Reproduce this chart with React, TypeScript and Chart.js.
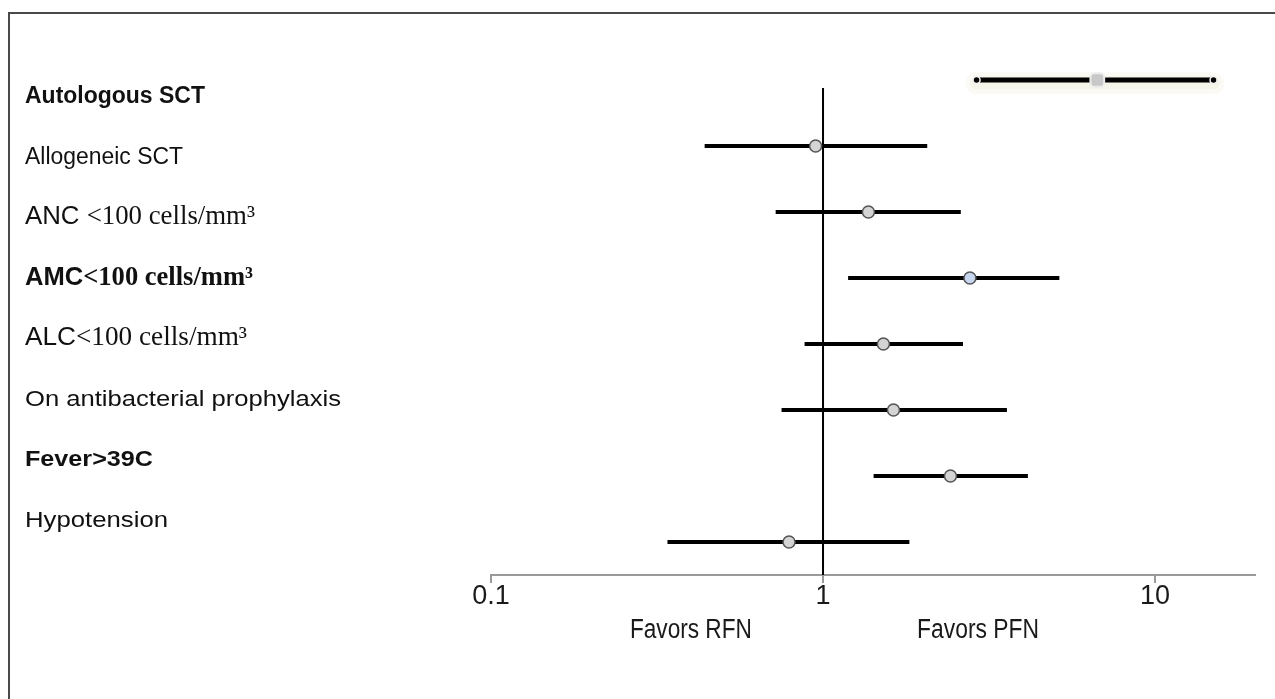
import { useEffect, useRef } from "react";
import { Chart, registerables } from "chart.js";

Chart.register(...registerables);

// ---- data ----
const CATEGORIES = [
  "Autologous SCT",
  "Allogeneic SCT",
  "ANC <100 cells/mm³",
  "AMC<100 cells/mm³",
  "ALC<100 cells/mm³",
  "On antibacterial prophylaxis",
  "Fever>39C",
  "Hypotension",
];
const ODDS_RATIO = [6.7, 0.95, 1.37, 2.77, 1.52, 1.63, 2.42, 0.79];
const CI_LOW = [2.9, 0.44, 0.72, 1.19, 0.88, 0.75, 1.42, 0.34];
const CI_HIGH = [15, 2.06, 2.6, 5.15, 2.64, 3.58, 4.14, 1.82];
const X_TICKS = [0.1, 1, 10];
const X_MIN = 0.1;
const X_MAX = 20;
const REFERENCE = 1;
const SIDE_LABELS = ["Favors RFN", "Favors PFN"];
const SIDE_LABEL_AT = [0.4, 2.93];

// ---- label styling (not data) ----
const LABEL_STYLE = [
  { bold: true, size: 23, serifFrom: -1, serifSize: 0, width: 180 },
  { bold: false, size: 23, serifFrom: -1, serifSize: 0, width: 158 },
  { bold: false, size: 26, serifFrom: 4, serifSize: 27, width: 230 },
  { bold: true, size: 26, serifFrom: 3, serifSize: 27, width: 228 },
  { bold: false, size: 26, serifFrom: 3, serifSize: 27, width: 222 },
  { bold: false, size: 22, serifFrom: -1, serifSize: 0, width: 316 },
  { bold: true, size: 22, serifFrom: -1, serifSize: 0, width: 128 },
  { bold: false, size: 22, serifFrom: -1, serifSize: 0, width: 143 },
];
const SANS = '"Liberation Sans", Arial, sans-serif';
const SERIF = '"Liberation Serif", "Times New Roman", serif';

const textPlugin = {
  id: "forestText",
  beforeDraw(chart: any) {
    const ctx = chart.ctx;
    ctx.save();
    ctx.strokeStyle = "#4a4a4a";
    ctx.lineWidth = 2;
    ctx.beginPath();
    ctx.moveTo(chart.width, 13);
    ctx.lineTo(9, 13);
    ctx.lineTo(9, chart.height);
    ctx.stroke();
    ctx.restore();
  },
  afterDraw(chart: any) {
    const ctx = chart.ctx;
    const yl = chart.scales.yl;
    const xs = chart.scales.x;
    ctx.save();
    ctx.fillStyle = "#111";
    ctx.textBaseline = "alphabetic";
    ctx.textAlign = "left";
    CATEGORIES.forEach((label, i) => {
      const st = LABEL_STYLE[i];
      const y = yl.getPixelForValue(i);
      const w = st.bold ? "bold " : "";
      const parts: [string, string][] =
        st.serifFrom >= 0
          ? [
              [label.slice(0, st.serifFrom), `${w}${st.size}px ${SANS}`],
              [label.slice(st.serifFrom), `${w}${st.serifSize}px ${SERIF}`],
            ]
          : [[label, `${w}${st.size}px ${SANS}`]];
      let total = 0;
      const widths = parts.map(([t, f]) => {
        ctx.font = f;
        const m = ctx.measureText(t).width;
        total += m;
        return m;
      });
      const sx = st.width / total;
      ctx.save();
      ctx.translate(25, y);
      ctx.scale(sx, 1);
      let cx = 0;
      parts.forEach(([t, f], k) => {
        ctx.font = f;
        ctx.fillText(t, cx, 0);
        cx += widths[k];
      });
      ctx.restore();
    });
    // side labels under the axis
    ctx.fillStyle = "#1a1a1a";
    SIDE_LABELS.forEach((t, k) => {
      const px = xs.getPixelForValue(SIDE_LABEL_AT[k]);
      ctx.font = `27px ${SANS}`;
      const m = ctx.measureText(t).width;
      const sx = 122 / m;
      ctx.save();
      ctx.translate(px, chart.chartArea.bottom + 63);
      ctx.scale(sx, 1);
      ctx.fillText(t, -m / 2, 0);
      ctx.restore();
    });
    ctx.restore();
  },
};

export default function App() {
  const ref = useRef<HTMLCanvasElement>(null);
  useEffect(() => {
    const glowOuter = {
      label: "glow-outer",
      data: [
        { x: CI_LOW[0], y: 0.05 },
        { x: CI_HIGH[0], y: 0.05 },
      ],
      showLine: true,
      borderColor: "rgba(214,204,160,0.10)",
      borderWidth: 22,
      borderCapStyle: "round",
      pointRadius: 0,
      order: 21,
    };
    const glow = {
      label: "glow",
      data: [
        { x: CI_LOW[0], y: 0.04 },
        { x: CI_HIGH[0], y: 0.04 },
      ],
      showLine: true,
      borderColor: "rgba(214,204,160,0.14)",
      borderWidth: 13,
      borderCapStyle: "round",
      pointRadius: 0,
      order: 20,
    };
    const rowLines = CATEGORIES.map((c, i) => ({
      label: c,
      data: [
        { x: CI_LOW[i], y: i },
        { x: CI_HIGH[i], y: i },
      ],
      showLine: true,
      borderColor: "#000",
      borderWidth: i === 0 ? 5 : 4,
      borderCapStyle: "butt",
      pointRadius: i === 0 ? 3.5 : 0,
      pointBackgroundColor: "#000",
      pointBorderColor: "#f4f4f4",
      pointBorderWidth: 1.5,
      order: 5,
    }));
    const refLine = {
      label: "ref",
      data: [
        { x: REFERENCE, y: 0.12 },
        { x: REFERENCE, y: 7.5 },
      ],
      showLine: true,
      borderColor: "#000",
      borderWidth: 2,
      pointRadius: 0,
      order: 8,
    };
    const points = {
      label: "OR",
      data: ODDS_RATIO.map((v, i) => ({ x: v, y: i })),
      showLine: false,
      pointStyle: ODDS_RATIO.map((_, i) => (i === 0 ? "rectRounded" : "circle")),
      pointRadius: ODDS_RATIO.map((_, i) => (i === 0 ? 8 : 6)),
      pointBackgroundColor: ODDS_RATIO.map((_, i) =>
        i === 0 ? "#c8c8c8" : i === 3 ? "#c6d6ef" : "#d4d4d4"
      ),
      pointBorderColor: ODDS_RATIO.map((_, i) => (i === 0 ? "#ececec" : "#555")),
      pointBorderWidth: ODDS_RATIO.map((_, i) => (i === 0 ? 2 : 1.5)),
      order: 1,
    };

    const chart = new Chart(ref.current!, {
      type: "scatter",
      data: { datasets: [glowOuter, glow, ...rowLines, refLine, points] as any },
      options: {
        responsive: false,
        animation: false,
        events: [],
        layout: { padding: { left: 491, right: 20, top: 14, bottom: 0 } },
        plugins: { legend: { display: false }, tooltip: { enabled: false } },
        elements: { line: { tension: 0 } },
        scales: {
          x: {
            type: "logarithmic",
            min: X_MIN,
            max: X_MAX,
            position: "bottom",
            afterBuildTicks: (scale: any) => {
              scale.ticks = X_TICKS.map((v) => ({ value: v }));
            },
            afterFit: (scale: any) => {
              scale.height = 124;
            },
            ticks: {
              callback: (v: any) => String(v),
              autoSkip: false,
              maxRotation: 0,
              padding: 0,
              color: "#1a1a1a",
              font: {
                family: '"Liberation Sans Narrow", "Liberation Sans", Arial, sans-serif',
                size: 27,
                lineHeight: 1,
              },
            },
            grid: {
              display: true,
              drawOnChartArea: false,
              drawTicks: true,
              tickLength: 8,
              color: "#9a9a9a",
              lineWidth: 2,
            },
            border: { display: true, color: "#9a9a9a", width: 2 },
          },
          y: { type: "linear", reverse: true, min: -1, max: 7.5, display: false },
          yl: { type: "linear", reverse: true, min: -1.469, max: 7.793, display: false },
        },
      } as any,
      plugins: [textPlugin],
    });
    return () => chart.destroy();
  }, []);
  return (
    <canvas
      ref={ref}
      width={1275}
      height={699}
      style={{ position: "fixed", left: 0, top: 0, background: "#fff" }}
    />
  );
}
